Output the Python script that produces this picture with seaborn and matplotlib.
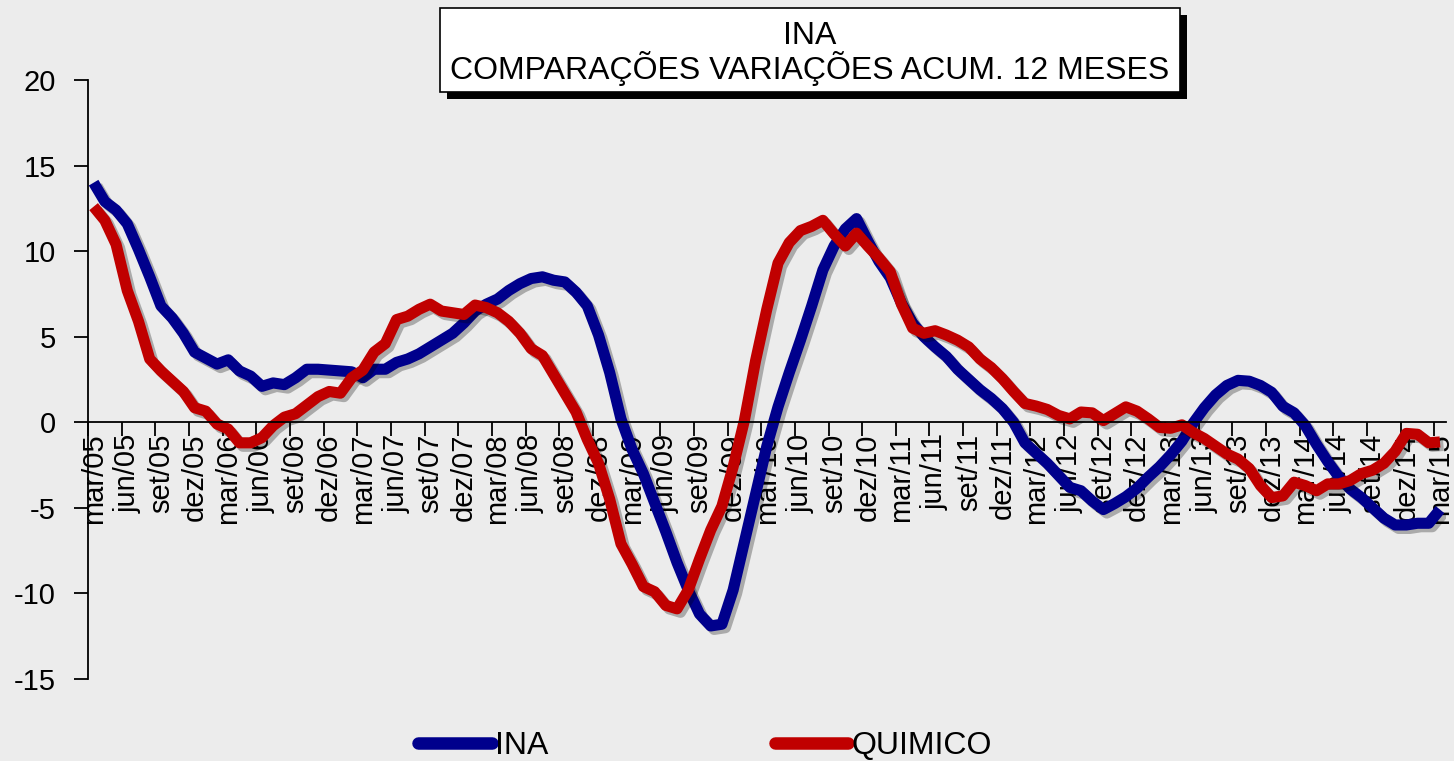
import numpy as np
import pandas as pd
import matplotlib
matplotlib.use("Agg")
import matplotlib.pyplot as plt
import matplotlib.patheffects as pe
from matplotlib.patches import Rectangle
from matplotlib.lines import Line2D
import seaborn as sns

# ---------------- data ----------------
month_names = ['jan', 'fev', 'mar', 'abr', 'mai', 'jun', 'jul', 'ago', 'set', 'out', 'nov', 'dez']
start_year, start_month = 2005, 2          # mar/05
n_months = 121                             # mar/05 .. mar/15
categories = [f"{month_names[(start_month + i) % 12]}/{(start_year + (start_month + i) // 12) % 100:02d}"
              for i in range(n_months)]

ina = [14.0, 12.9, 12.4, 11.6, 10.1, 8.5, 6.8, 6.1, 5.2, 4.1,
       3.75, 3.4, 3.65, 3.0, 2.7, 2.1, 2.3, 2.2, 2.6, 3.1,
       3.1, 3.05, 3.0, 2.95, 2.6, 3.1, 3.1, 3.5, 3.7, 4.0,
       4.4, 4.8, 5.2, 5.8, 6.5, 6.9, 7.2, 7.7, 8.1, 8.4,
       8.5, 8.3, 8.2, 7.6, 6.8, 5.1, 2.9, 0.2, -1.6, -3.0,
       -4.7, -6.4, -8.2, -9.8, -11.2, -11.9, -11.8, -9.8, -7.0, -4.2,
       -1.4, 0.9, 2.9, 4.8, 6.8, 8.9, 10.3, 11.3, 11.9, 10.6,
       9.4, 8.45, 6.95, 5.8, 5.0, 4.4, 3.85, 3.1, 2.5, 1.9,
       1.4, 0.8, 0.0, -1.2, -1.8, -2.4, -3.1, -3.8, -4.0, -4.6,
       -5.1, -4.75, -4.35, -3.85, -3.2, -2.6, -1.9, -1.1, -0.05, 0.85,
       1.6, 2.15, 2.45, 2.4, 2.15, 1.75, 0.93, 0.55, -0.2, -1.3,
       -2.3, -3.2, -3.9, -4.4, -5.0, -5.6, -6.0, -6.0, -5.9, -5.9,
       -5.1]

quimico = [12.6, 11.8, 10.4, 7.7, 5.9, 3.7, 3.0, 2.4, 1.8, 0.85,
           0.65, -0.1, -0.4, -1.2, -1.2, -0.9, -0.2, 0.3, 0.5, 1.0,
           1.5, 1.8, 1.7, 2.6, 3.05, 4.1, 4.6, 6.0, 6.2, 6.6,
           6.9, 6.5, 6.4, 6.3, 6.85, 6.7, 6.4, 5.9, 5.2, 4.3,
           3.9, 2.8, 1.7, 0.6, -1.0, -2.4, -4.5, -7.1, -8.3, -9.6,
           -9.9, -10.7, -10.9, -9.8, -8.0, -6.3, -4.9, -2.6, 0.1, 3.6,
           6.6, 9.3, 10.5, 11.2, 11.45, 11.8, 11.0, 10.3, 11.05, 10.3,
           9.6, 8.8, 6.9, 5.5, 5.2, 5.35, 5.1, 4.8, 4.4, 3.7,
           3.2, 2.55, 1.8, 1.1, 0.95, 0.75, 0.4, 0.2, 0.6, 0.55,
           0.1, 0.5, 0.9, 0.65, 0.2, -0.3, -0.35, -0.15, -0.6, -0.95,
           -1.4, -1.85, -2.15, -2.7, -3.7, -4.4, -4.3, -3.5, -3.7, -4.0,
           -3.6, -3.6, -3.4, -3.0, -2.8, -2.4, -1.7, -0.65, -0.7, -1.2,
           -1.15]

series_names = ['INA', 'QUIMICO']
series_colors = {'INA': '#00008C', 'QUIMICO': '#C00000'}
y_ticks = [-15, -10, -5, 0, 5, 10, 15, 20]
title_lines = ['INA', 'COMPARAÇÕES VARIAÇÕES ACUM. 12 MESES']

df = pd.DataFrame({
    'idx': list(range(n_months)) * 2,
    'mes': categories * 2,
    'valor': ina + quimico,
    'serie': ['INA'] * n_months + ['QUIMICO'] * n_months,
})

# ---------------- style ----------------
sns.set_theme(style='white')
plt.rcParams['font.family'] = ['Liberation Sans', 'DejaVu Sans']
plt.rcParams['text.color'] = 'black'

W, H = 1454, 761
fig = plt.figure(figsize=(W / 100, H / 100), dpi=100, facecolor='#ececec')
ax = fig.add_axes([88 / W, 1 - 679 / H, (1445.6 - 88) / W, (679 - 80) / H])
ax.set_facecolor('none')

sns.lineplot(data=df, x='idx', y='valor', hue='serie', hue_order=series_names,
             palette=series_colors, linewidth=8, ax=ax, legend=False, sort=False)
for ln in ax.lines:
    ln.set_solid_joinstyle('round')
    ln.set_solid_capstyle('butt')
    ln.set_path_effects([pe.SimpleLineShadow(offset=(2.5, -2.5), shadow_color='black', alpha=0.28),
                         pe.Normal()])

ax.set_xlim(-0.5, n_months - 0.5)
ax.set_ylim(-15, 20)
for s in ['top', 'right']:
    ax.spines[s].set_visible(False)
ax.spines['bottom'].set_position(('data', 0))
for s in ['left', 'bottom']:
    ax.spines[s].set_color('black')
    ax.spines[s].set_linewidth(1.3)

ax.set_yticks(y_ticks)
ax.set_yticklabels([str(v) for v in y_ticks])
ax.set_xticks(np.arange(-0.5, n_months - 1, 3))
ax.set_xticklabels([])
tick_pos = list(range(0, n_months, 3))
ax.set_xticks(tick_pos, minor=True)
ax.set_xticklabels([categories[i] for i in tick_pos], minor=True, rotation=90,
                   fontsize=21, color='black')
ax.tick_params(axis='x', which='major', bottom=True, length=10, width=1.3,
               direction='out', color='black')
ax.tick_params(axis='x', which='minor', bottom=True, length=0, pad=8)
ax.tick_params(axis='y', left=True, length=10, width=1.3, direction='out',
               color='black', labelcolor='black', labelsize=21, pad=13)
ax.set_xlabel('')
ax.set_ylabel('')
ax.grid(False)

# ---------------- title box ----------------
bx0, by0, bx1, by1 = 440, 8, 1180, 92
off = 7
fig.patches.append(Rectangle(((bx0 + off) / W, 1 - (by1 + off) / H), (bx1 - bx0) / W, (by1 - by0) / H,
                             transform=fig.transFigure, facecolor='black', edgecolor='none', zorder=5))
fig.patches.append(Rectangle((bx0 / W, 1 - by1 / H), (bx1 - bx0) / W, (by1 - by0) / H,
                             transform=fig.transFigure, facecolor='white', edgecolor='black',
                             linewidth=1.2, zorder=6))
fig.text(810 / W, 1 - 36 / H, title_lines[0], ha='center', va='center', fontsize=23,
         color='black', zorder=7)
fig.text(810 / W, 1 - 68 / H, title_lines[1], ha='center', va='center', fontsize=23,
         color='black', zorder=7)

# ---------------- legend ----------------
handles = [Line2D([], [], color=series_colors[s], linewidth=9, solid_capstyle='round') for s in series_names]
leg = fig.legend(handles, series_names, loc='center', bbox_to_anchor=(705 / W, 15 / H), ncol=2,
                 frameon=False, fontsize=23, handlelength=2.3, handletextpad=0.1, columnspacing=7.1)
for t in leg.get_texts():
    t.set_color('black')

fig.savefig('out.png', dpi=100, facecolor=fig.get_facecolor())
